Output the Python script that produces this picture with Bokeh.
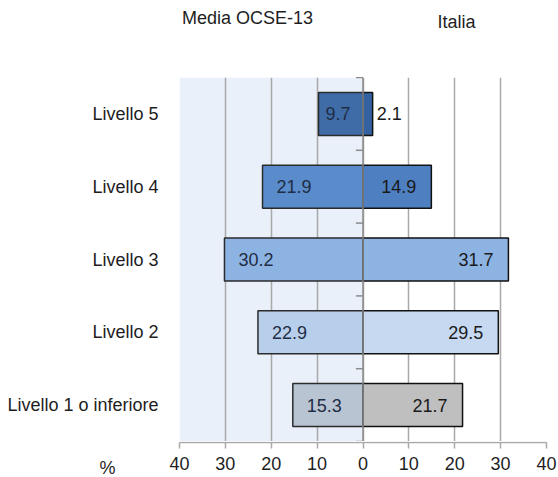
from bokeh.plotting import figure
from bokeh.layouts import column
from bokeh.models import ColumnDataSource, FactorRange, FixedTicker, BoxAnnotation, Span, Label, Range1d
from bokeh.core.properties import value
from bokeh.embed import file_html
from bokeh.resources import INLINE

# ---- data ----
levels = ["Livello 5", "Livello 4", "Livello 3", "Livello 2", "Livello 1 o inferiore"]
ocse = [9.7, 21.9, 30.2, 22.9, 15.3]
italia = [2.1, 14.9, 31.7, 29.5, 21.7]
x_ticks = [-40, -30, -20, -10, 0, 10, 20, 30, 40]
x_tick_labels = ["40", "30", "20", "10", "0", "10", "20", "30", "40"]
header_left = "Media OCSE-13"
header_right = "Italia"
unit_label = "%"

# ---- styles / geometry ----
ocse_colors = ["#3F6CA6", "#5A8BCA", "#8DB3E2", "#B8CFEC", "#B9C4D3"]
italia_colors = ["#3462A0", "#4E80C1", "#8DB3E2", "#C6D9F1", "#BFBFBF"]
FONT = "Liberation Sans"
FS = "18px"
TXT = "#1e1e1e"
GRID = "#a9a9a9"
W, H = 558, 477
LEFT, RIGHT = 179, 12          # frame margins
TOP, BOTTOM = 77, 36           # header height / axis row height
XMIN, XMAX = -40, 40

x_range = Range1d(XMIN, XMAX)

def bare(fig):
    fig.outline_line_color = None
    fig.background_fill_color = "white"
    fig.border_fill_color = "white"
    fig.xgrid.visible = False
    fig.ygrid.visible = False

# ---- header row ----
head = figure(width=W, height=TOP, x_range=x_range, y_range=Range1d(0, TOP),
              x_axis_location=None, y_axis_location=None,
              output_backend="svg", toolbar_location=None,
              min_border_left=LEFT, min_border_right=RIGHT, min_border_top=0, min_border_bottom=0)
bare(head)
head.frame_align = False
head.add_layout(Label(x=68, y=60, x_units="screen", y_units="screen", text=header_left,
                      text_align="center", text_baseline="middle", text_font=FONT,
                      text_font_size=FS, text_color=TXT))
head.add_layout(Label(x=277, y=56, x_units="screen", y_units="screen", text=header_right,
                      text_align="center", text_baseline="middle", text_font=FONT,
                      text_font_size=FS, text_color=TXT))

# ---- main chart ----
p = figure(width=W, height=H - TOP - BOTTOM,
           y_range=FactorRange(factors=list(reversed(levels))),
           x_range=x_range, x_axis_location=None,
           output_backend="svg", toolbar_location=None,
           min_border_left=LEFT, min_border_right=RIGHT,
           min_border_top=0, min_border_bottom=0)
p.frame_align = False
p.outline_line_color = None
p.background_fill_color = "white"
p.border_fill_color = "white"

p.add_layout(BoxAnnotation(left=XMIN, right=0, fill_color="#E9F0F9", fill_alpha=1,
                           line_color=None, level="image"))

p.ygrid.grid_line_color = None
p.xgrid.ticker = FixedTicker(ticks=x_ticks)
p.xgrid.grid_line_color = GRID
p.xgrid.grid_line_width = 1.5

p.yaxis.axis_line_color = None
p.yaxis.major_tick_line_color = None
p.yaxis.minor_tick_line_color = None
p.yaxis.major_label_standoff = 15
p.yaxis.major_label_text_font = FONT
p.yaxis.major_label_text_font_size = FS
p.yaxis.major_label_text_color = TXT

src_l = ColumnDataSource(dict(y=levels, left=[-v for v in ocse], right=[0] * len(ocse), color=ocse_colors))
src_r = ColumnDataSource(dict(y=levels, left=[0] * len(italia), right=italia, color=italia_colors))
p.hbar(y="y", left="left", right="right", height=0.59, fill_color="color",
       line_color="#2b2b2b", line_width=1.5, source=src_l)
p.hbar(y="y", left="left", right="right", height=0.59, fill_color="color",
       line_color="#111111", line_width=1.5, source=src_r)

p.add_layout(Span(location=0, dimension="height", line_color="#8c8c8c", line_width=1.5, level="overlay"))

bounds = [(f, -0.5) for f in levels] + [(levels[0], 0.5)]
p.segment(x0=[0] * len(bounds), x1=[-1.55] * len(bounds), y0=bounds, y1=bounds,
          line_color="#8c8c8c", line_width=1.5, level="overlay")

src_lt = ColumnDataSource(dict(x=[-v for v in ocse], y=levels, t=[f"{v:.1f}" for v in ocse],
                               off=[14 if v > 12 else 7 for v in ocse]))
p.text(x="x", y="y", text="t", x_offset="off", source=src_lt, text_align="left",
       text_baseline="middle", text_font=value(FONT), text_font_size=FS, text_color="#1f2d45")

ins = [i for i, v in enumerate(italia) if v >= 5]
out = [i for i, v in enumerate(italia) if v < 5]
src_ri = ColumnDataSource(dict(x=[italia[i] for i in ins], y=[levels[i] for i in ins],
                               t=[f"{italia[i]:.1f}" for i in ins]))
src_ro = ColumnDataSource(dict(x=[italia[i] for i in out], y=[levels[i] for i in out],
                               t=[f"{italia[i]:.1f}" for i in out]))
p.text(x="x", y="y", text="t", x_offset=-15, source=src_ri, text_align="right",
       text_baseline="middle", text_font=value(FONT), text_font_size=FS, text_color="#1a1a1a")
p.text(x="x", y="y", text="t", x_offset=4, source=src_ro, text_align="left",
       text_baseline="middle", text_font=value(FONT), text_font_size=FS, text_color="#1a1a1a")

# ---- axis row (full width so the end labels and "%" are not clipped) ----
scale = (XMAX - XMIN) / (W - LEFT - RIGHT)
ax = figure(width=W, height=BOTTOM,
            x_range=Range1d(XMIN - LEFT * scale, XMAX + RIGHT * scale),
            y_range=Range1d(0, BOTTOM), y_axis_location=None,
            output_backend="svg", toolbar_location=None,
            min_border_left=0, min_border_right=0, min_border_top=0, min_border_bottom=0)
bare(ax)
ax.frame_align = False
xa = ax.xaxis[0]
xa.fixed_location = BOTTOM - 0.5
xa.bounds = (XMIN, XMAX)
xa.ticker = FixedTicker(ticks=x_ticks)
xa.major_label_overrides = {t: l for t, l in zip(x_ticks, x_tick_labels)}
xa.axis_line_color = GRID
xa.axis_line_width = 1.5
xa.major_tick_line_color = GRID
xa.major_tick_line_width = 1.5
xa.major_tick_out = 6
xa.major_tick_in = 0
xa.minor_tick_line_color = None
xa.major_label_standoff = 9
xa.major_label_text_font = FONT
xa.major_label_text_font_size = FS
xa.major_label_text_color = TXT
ax.add_layout(Label(x=107, y=10, x_units="screen", y_units="screen", text=unit_label,
                    text_align="center", text_baseline="middle", text_font=FONT,
                    text_font_size=FS, text_color=TXT))

layout = column(head, p, ax, spacing=0)
open("out.html", "w").write(file_html(layout, INLINE))
